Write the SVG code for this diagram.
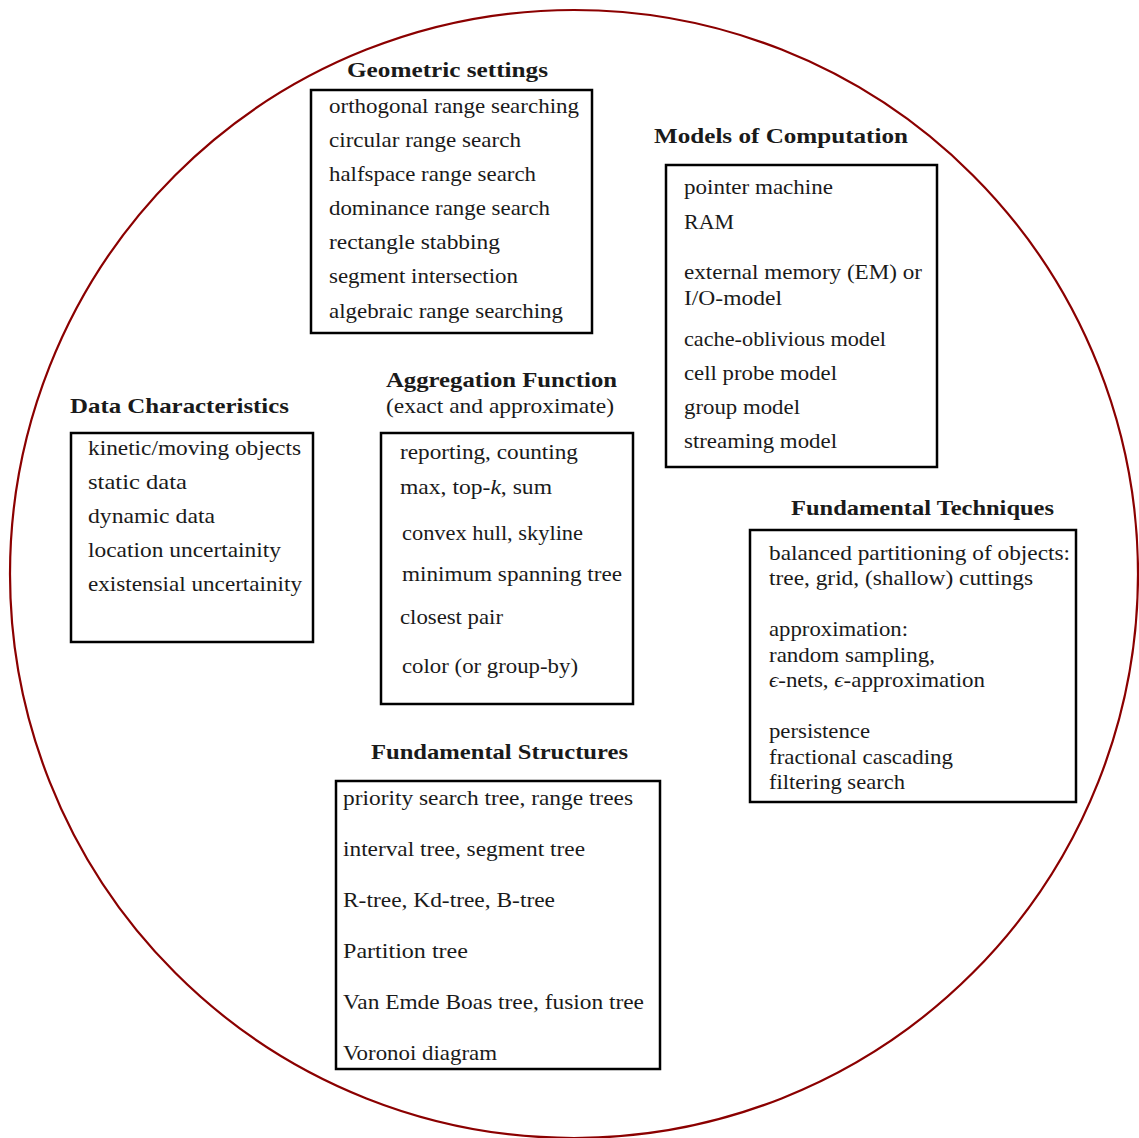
<svg xmlns="http://www.w3.org/2000/svg" width="1139" height="1138" viewBox="0 0 1139 1138">
<style>
.box{fill:none;stroke:#000;stroke-width:2.5}
text{font-family:"Liberation Serif","DejaVu Serif",serif;font-size:21.5px;fill:#1a1a1a}
.t{font-weight:bold;font-size:21px}
.i{font-style:italic}
</style>
<rect width="1139" height="1138" fill="#fff"/>
<circle cx="574" cy="574" r="564" fill="none" stroke="#8b0000" stroke-width="2.2"/>
<g id="geometric">
<text class="t" x="347" y="77" textLength="201" lengthAdjust="spacingAndGlyphs">Geometric settings</text>
<rect class="box" x="311" y="90" width="281" height="243"/>
<text x="329" y="113" textLength="250" lengthAdjust="spacingAndGlyphs">orthogonal range searching</text>
<text x="329" y="147" textLength="192" lengthAdjust="spacingAndGlyphs">circular range search</text>
<text x="329" y="181" textLength="207" lengthAdjust="spacingAndGlyphs">halfspace range search</text>
<text x="329" y="215" textLength="221" lengthAdjust="spacingAndGlyphs">dominance range search</text>
<text x="329" y="249" textLength="171" lengthAdjust="spacingAndGlyphs">rectangle stabbing</text>
<text x="329" y="283" textLength="189" lengthAdjust="spacingAndGlyphs">segment intersection</text>
<text x="329" y="318" textLength="234" lengthAdjust="spacingAndGlyphs">algebraic range searching</text>
</g>
<g id="models">
<text class="t" x="654" y="143" textLength="254" lengthAdjust="spacingAndGlyphs">Models of Computation</text>
<rect class="box" x="666" y="165" width="271" height="302"/>
<text x="684" y="194" textLength="149" lengthAdjust="spacingAndGlyphs">pointer machine</text>
<text x="684" y="229" textLength="50" lengthAdjust="spacingAndGlyphs">RAM</text>
<text x="684" y="279" textLength="238" lengthAdjust="spacingAndGlyphs">external memory (EM) or</text>
<text x="684" y="305" textLength="98" lengthAdjust="spacingAndGlyphs">I/O-model</text>
<text x="684" y="346" textLength="202" lengthAdjust="spacingAndGlyphs">cache-oblivious model</text>
<text x="684" y="380" textLength="153" lengthAdjust="spacingAndGlyphs">cell probe model</text>
<text x="684" y="414" textLength="116" lengthAdjust="spacingAndGlyphs">group model</text>
<text x="684" y="448" textLength="153" lengthAdjust="spacingAndGlyphs">streaming model</text>
</g>
<g id="data">
<text class="t" x="70" y="413" textLength="219" lengthAdjust="spacingAndGlyphs">Data Characteristics</text>
<rect class="box" x="71" y="433" width="242" height="209"/>
<text x="88" y="455" textLength="213" lengthAdjust="spacingAndGlyphs">kinetic/moving objects</text>
<text x="88" y="489" textLength="99" lengthAdjust="spacingAndGlyphs">static data</text>
<text x="88" y="523" textLength="127" lengthAdjust="spacingAndGlyphs">dynamic data</text>
<text x="88" y="557" textLength="193" lengthAdjust="spacingAndGlyphs">location uncertainity</text>
<text x="88" y="591" textLength="214" lengthAdjust="spacingAndGlyphs">existensial uncertainity</text>
</g>
<g id="aggregation">
<text class="t" x="386" y="387" textLength="231" lengthAdjust="spacingAndGlyphs">Aggregation Function</text>
<text x="386" y="413" textLength="228" lengthAdjust="spacingAndGlyphs">(exact and approximate)</text>
<rect class="box" x="381" y="433" width="252" height="271"/>
<text x="400" y="459" textLength="178" lengthAdjust="spacingAndGlyphs">reporting, counting</text>
<text x="400" y="494" textLength="152" lengthAdjust="spacingAndGlyphs">max, top-<tspan class="i">k</tspan>, sum</text>
<text x="402" y="540" textLength="181" lengthAdjust="spacingAndGlyphs">convex hull, skyline</text>
<text x="402" y="581" textLength="220" lengthAdjust="spacingAndGlyphs">minimum spanning tree</text>
<text x="400" y="624" textLength="103" lengthAdjust="spacingAndGlyphs">closest pair</text>
<text x="402" y="673" textLength="176" lengthAdjust="spacingAndGlyphs">color (or group-by)</text>
</g>
<g id="techniques">
<text class="t" x="791" y="515" textLength="263" lengthAdjust="spacingAndGlyphs">Fundamental Techniques</text>
<rect class="box" x="750" y="530" width="326" height="272"/>
<text x="769" y="560" textLength="301" lengthAdjust="spacingAndGlyphs">balanced partitioning of objects:</text>
<text x="769" y="585" textLength="264" lengthAdjust="spacingAndGlyphs">tree, grid, (shallow) cuttings</text>
<text x="769" y="636" textLength="139" lengthAdjust="spacingAndGlyphs">approximation:</text>
<text x="769" y="662" textLength="166" lengthAdjust="spacingAndGlyphs">random sampling,</text>
<text x="769" y="687" textLength="216" lengthAdjust="spacingAndGlyphs"><tspan class="i">ϵ</tspan>-nets, <tspan class="i">ϵ</tspan>-approximation</text>
<text x="769" y="738" textLength="101" lengthAdjust="spacingAndGlyphs">persistence</text>
<text x="769" y="764" textLength="184" lengthAdjust="spacingAndGlyphs">fractional cascading</text>
<text x="769" y="789" textLength="136" lengthAdjust="spacingAndGlyphs">filtering search</text>
</g>
<g id="structures">
<text class="t" x="371" y="759" textLength="257" lengthAdjust="spacingAndGlyphs">Fundamental Structures</text>
<rect class="box" x="336" y="781" width="324" height="288"/>
<text x="343" y="805" textLength="290" lengthAdjust="spacingAndGlyphs">priority search tree, range trees</text>
<text x="343" y="856" textLength="242" lengthAdjust="spacingAndGlyphs">interval tree, segment tree</text>
<text x="343" y="907" textLength="212" lengthAdjust="spacingAndGlyphs">R-tree, Kd-tree, B-tree</text>
<text x="343" y="958" textLength="125" lengthAdjust="spacingAndGlyphs">Partition tree</text>
<text x="343" y="1009" textLength="301" lengthAdjust="spacingAndGlyphs">Van Emde Boas tree, fusion tree</text>
<text x="343" y="1060" textLength="154" lengthAdjust="spacingAndGlyphs">Voronoi diagram</text>
</g>
<g id="connectors"></g>
</svg>
